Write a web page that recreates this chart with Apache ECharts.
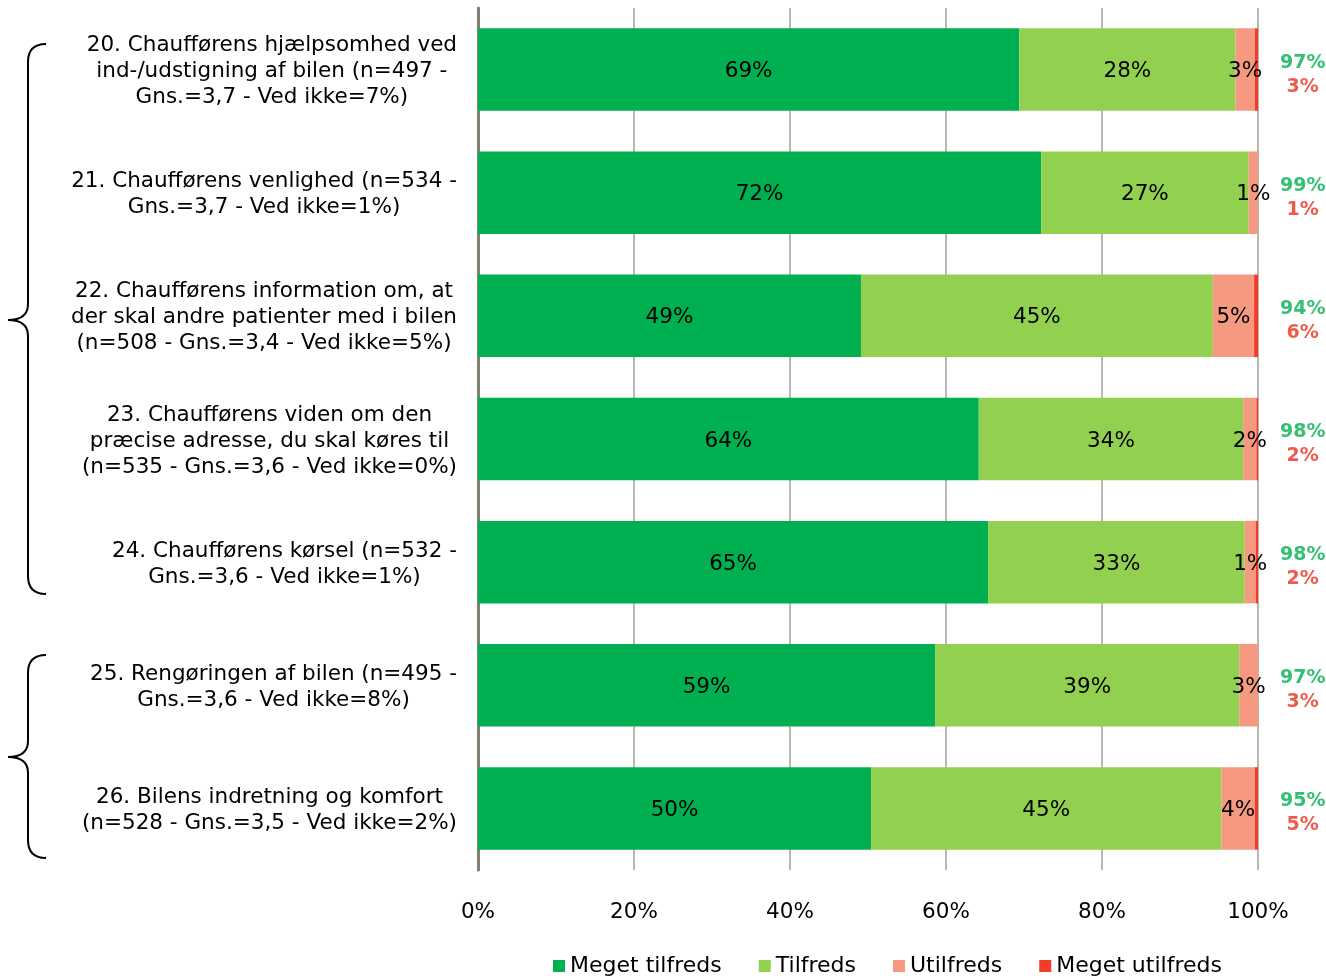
<!DOCTYPE html>
<html>
<head>
<meta charset="utf-8">
<script src="https://cdn.jsdelivr.net/npm/echarts@6/dist/echarts.min.js"></script>
<style>html,body{margin:0;padding:0;background:#fff}#c{width:1326px;height:976px}</style>
</head>
<body>
<div id="c"></div>
<script>
const categories = [
  "20. Chaufførens hjælpsomhed ved\nind-/udstigning af bilen (n=497 -\nGns.=3,7 - Ved ikke=7%)",
  "21. Chaufførens venlighed (n=534 -\nGns.=3,7 - Ved ikke=1%)",
  "22. Chaufførens information om, at\nder skal andre patienter med i bilen\n(n=508 - Gns.=3,4 - Ved ikke=5%)",
  "23. Chaufførens viden om den\npræcise adresse, du skal køres til\n(n=535 - Gns.=3,6 - Ved ikke=0%)",
  "24. Chaufførens kørsel (n=532 -\nGns.=3,6 - Ved ikke=1%)",
  "25. Rengøringen af bilen (n=495 -\nGns.=3,6 - Ved ikke=8%)",
  "26. Bilens indretning og komfort\n(n=528 - Gns.=3,5 - Ved ikke=2%)"
];
const seriesNames = ["Meget tilfreds", "Tilfreds", "Utilfreds", "Meget utilfreds"];
const megetTilfreds = [69.4, 72.2, 49.1, 64.2, 65.4, 58.6, 50.4];
const tilfreds = [27.7, 26.6, 45.1, 33.9, 32.9, 39.0, 44.9];
const utilfreds = [2.5, 1.2, 5.3, 1.7, 1.4, 2.4, 4.3];
const megetUtilfreds = [0.4, 0, 0.5, 0.2, 0.3, 0, 0.4];
const megetTilfredsLabels = [69, 72, 49, 64, 65, 59, 50];
const tilfredsLabels = [28, 27, 45, 34, 33, 39, 45];
const utilfredsLabels = [3, 1, 5, 2, 1, 3, 4];
const totalSatisfied = [97, 99, 94, 98, 98, 97, 95];
const totalDissatisfied = [3, 1, 6, 2, 2, 3, 5];
const xTicks = [0, 20, 40, 60, 80, 100];

const FONT = "DejaVu Sans";
const FS = 21.5;
const colors = ["#00B050", "#92D050", "#F59A80", "#F03C28"];

const chart = echarts.init(document.getElementById('c'), null, {renderer: 'canvas'});

function barLabel(arr) {
  return {
    show: true, position: 'inside', offset: [0, 2], color: '#000', fontFamily: FONT, fontSize: FS,
    formatter: p => arr[p.dataIndex] + '%'
  };
}

const option = {
  animation: false,
  backgroundColor: '#fff',
  color: colors,
  grid: {left: 478, right: 68, top: 8, height: 862, containLabel: false},
  xAxis: {
    type: 'value', min: xTicks[0], max: xTicks[xTicks.length - 1], interval: 20,
    axisLine: {show: false}, axisTick: {show: false},
    splitLine: {show: true, lineStyle: {color: '#B8B8AE', width: 2}},
    axisLabel: {formatter: '{value}%', fontFamily: FONT, fontSize: FS, color: '#000', margin: 31}
  },
  yAxis: {
    type: 'category', data: categories, inverse: true,
    axisLine: {show: true, lineStyle: {color: '#7F7F72', width: 3}},
    axisTick: {show: false},
    axisLabel: {
      align: 'right', margin: 21, color: '#000', fontFamily: FONT, fontSize: FS, lineHeight: 26,
      padding: [4, 0, 0, 0],
      formatter: v => v.split('\n').map(l => '{c|' + l + '}').join('\n'),
      rich: {c: {align: 'center', fontFamily: FONT, fontSize: FS, lineHeight: 26, color: '#000'}}
    }
  },
  legend: {
    data: seriesNames, left: 548, top: 950, itemWidth: 12, itemHeight: 12, itemGap: 37,
    icon: 'rect', textStyle: {fontFamily: FONT, fontSize: 22, color: '#000'}
  },
  series: [
    {name: seriesNames[0], type: 'bar', stack: 's', data: megetTilfreds, barCategoryGap: '33%', label: barLabel(megetTilfredsLabels)},
    {name: seriesNames[1], type: 'bar', stack: 's', data: tilfreds, label: barLabel(tilfredsLabels)},
    {name: seriesNames[2], type: 'bar', stack: 's', data: utilfreds, label: barLabel(utilfredsLabels)},
    {name: seriesNames[3], type: 'bar', stack: 's', data: megetUtilfreds},
    {
      name: 'totals', type: 'scatter', symbolSize: 0, z: 10,
      data: categories.map((c, i) => [100, i]),
      label: {
        show: true, position: 'right', distance: 22, offset: [0, 5],
        formatter: p => '{g|' + totalSatisfied[p.dataIndex] + '%}\n{r|' + totalDissatisfied[p.dataIndex] + '%}',
        rich: {
          g: {align: 'center', color: '#00B050', fontFamily: FONT, fontWeight: 'bold', fontSize: 19, lineHeight: 24},
          r: {align: 'center', color: '#E8321F', fontFamily: FONT, fontWeight: 'bold', fontSize: 19, lineHeight: 24}
        }
      }
    }
  ]
};
chart.setOption(option);

function brace(top, mid, bot) {
  const xr = 46, xv = 28, xt = 8;
  const st = {stroke: '#000', lineWidth: 2, fill: null};
  return [
    {type: 'bezierCurve', shape: {x1: xr, y1: top, x2: xv, y2: top + 18, cpx1: xv, cpy1: top}, style: st},
    {type: 'line', shape: {x1: xv, y1: top + 18, x2: xv, y2: mid - 16}, style: st},
    {type: 'bezierCurve', shape: {x1: xv, y1: mid - 16, x2: xt, y2: mid, cpx1: xv, cpy1: mid}, style: st},
    {type: 'bezierCurve', shape: {x1: xt, y1: mid, x2: xv, y2: mid + 16, cpx1: xv, cpy1: mid}, style: st},
    {type: 'line', shape: {x1: xv, y1: mid + 16, x2: xv, y2: bot - 18}, style: st},
    {type: 'bezierCurve', shape: {x1: xv, y1: bot - 18, x2: xr, y2: bot, cpx1: xv, cpy1: bot}, style: st}
  ];
}
chart.setOption({
  graphic: brace(44, 320, 594).concat(brace(655, 757, 858))
});
</script>
</body>
</html>
